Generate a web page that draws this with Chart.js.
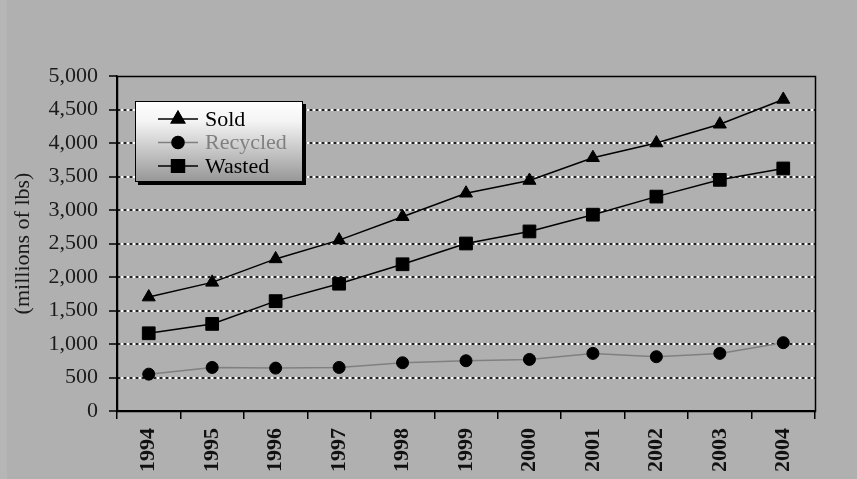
<!DOCTYPE html>
<html>
<head>
<meta charset="utf-8">
<script src="https://cdn.jsdelivr.net/npm/chart.js@4/dist/chart.umd.min.js"></script>
<style>
  html, body { margin: 0; padding: 0; background: #b0b0b0; }
  canvas { display: block; }
</style>
</head>
<body>
<canvas id="chart" width="857" height="479"></canvas>
<script>
// Annual totals, millions of lbs
const years = ['1994', '1995', '1996', '1997', '1998', '1999', '2000', '2001', '2002', '2003', '2004'];
const sold = [1700, 1920, 2270, 2550, 2900, 3250, 3440, 3780, 4000, 4280, 4650];
const recycled = [550, 650, 640, 650, 720, 750, 770, 860, 810, 860, 1020];
const wasted = [1160, 1300, 1640, 1900, 2190, 2500, 2680, 2930, 3200, 3450, 3620];
const seriesNames = ['Sold', 'Recycled', 'Wasted'];
const yAxisTitle = '(millions of lbs)';

const SERIF = '"Liberation Serif", "Times New Roman", serif';
const BG = '#b0b0b0';

// Background, plus the white base under each dashed gridline
const backdrop = {
  id: 'backdrop',
  beforeDraw(chart) {
    const { ctx, chartArea: a, scales: { y } } = chart;
    ctx.save();
    ctx.fillStyle = BG;
    ctx.fillRect(0, 0, chart.width, chart.height);
    ctx.fillStyle = '#b6b6b6';
    ctx.fillRect(0, 0, 7, chart.height);
    ctx.strokeStyle = '#ffffff';
    ctx.lineWidth = 2;
    y.ticks.forEach(t => {
      if (t.value <= y.min || t.value >= y.max) return;
      const py = Math.round(y.getPixelForValue(t.value));
      ctx.beginPath();
      ctx.moveTo(a.left, py);
      ctx.lineTo(a.right, py);
      ctx.stroke();
    });
    ctx.restore();
  },
  beforeDatasetsDraw(chart) {
    // plot frame
    const { ctx, chartArea: a } = chart;
    ctx.save();
    ctx.strokeStyle = '#000';
    ctx.lineWidth = 1.5;
    ctx.strokeRect(Math.round(a.left) + 0.5, Math.round(a.top) + 0.5,
                   Math.round(a.right - a.left), Math.round(a.bottom - a.top));
    ctx.restore();
  }
};

// Boxed legend with a drop shadow and a shaded fill
const boxLegend = {
  id: 'boxLegend',
  afterDraw(chart) {
    const { ctx, chartArea: a } = chart;
    const x = a.left + 18, y = a.top + 25, w = 168, h = 81;
    ctx.save();
    ctx.fillStyle = '#000';
    ctx.fillRect(x + 3, y + 3, w, h);
    const g = ctx.createLinearGradient(0, y, 0, y + h);
    g.addColorStop(0, '#ffffff');
    g.addColorStop(0.25, '#f4f4f4');
    g.addColorStop(1, '#969696');
    ctx.fillStyle = g;
    ctx.fillRect(x, y, w, h);
    ctx.strokeStyle = '#000';
    ctx.lineWidth = 1;
    ctx.strokeRect(x + 0.5, y + 0.5, w - 1, h - 1);

    ctx.font = '22px ' + SERIF;
    ctx.textBaseline = 'middle';
    ctx.textAlign = 'left';
    chart.data.datasets.forEach((ds, i) => {
      const ry = y + 18 + i * 23.5;
      ctx.strokeStyle = ds.borderColor;
      ctx.lineWidth = 1.5;
      ctx.beginPath();
      ctx.moveTo(x + 23, ry);
      ctx.lineTo(x + 63, ry);
      ctx.stroke();
      Chart.helpers.drawPoint(ctx, {
        pointStyle: ds.pointStyle,
        radius: ds.pointRadius,
        rotation: 0,
        borderWidth: 1
      }, x + 43, ry);
      ctx.fillStyle = '#000';
      ctx.strokeStyle = '#000';
      ctx.fill();
      ctx.stroke();
      ctx.fillStyle = ds.legendTextColor;
      ctx.fillText(ds.label, x + 70, ry + 1);
    });
    ctx.restore();
  }
};

function series(label, data, lineColor, textColor, style, radius) {
  return {
    label, data,
    borderColor: lineColor,
    borderWidth: 1.5,
    pointStyle: style,
    pointRadius: radius,
    pointHoverRadius: radius,
    pointBackgroundColor: '#000',
    pointBorderColor: '#000',
    pointBorderWidth: 1,
    tension: 0,
    legendTextColor: textColor
  };
}

new Chart(document.getElementById('chart'), {
  type: 'line',
  data: {
    labels: years,
    datasets: [
      series(seriesNames[0], sold, '#000000', '#000000', 'triangle', 7.5),
      series(seriesNames[1], recycled, '#808080', '#808080', 'circle', 6),
      series(seriesNames[2], wasted, '#000000', '#000000', 'rect', 9)
    ]
  },
  options: {
    responsive: false,
    animation: false,
    layout: { padding: { top: 76, right: 42, bottom: 0, left: 0 } },
    plugins: {
      legend: { display: false },
      tooltip: { enabled: false }
    },
    scales: {
      x: {
        offset: true,
        grid: {
          offset: true,
          drawOnChartArea: false,
          color: '#000',
          tickColor: '#000',
          tickLength: 8,
          lineWidth: 1.5
        },
        border: { display: true, color: '#000', width: 1.5 },
        ticks: {
          minRotation: 90,
          maxRotation: 90,
          padding: 9,
          color: '#111',
          font: { family: SERIF, size: 22, weight: 'bold' }
        },
        afterFit(scale) { scale.height = 68; }
      },
      y: {
        min: 0,
        max: 5000,
        ticks: {
          stepSize: 500,
          padding: 11,
          color: '#1a1a1a',
          font: { family: SERIF, size: 22 },
          callback: v => v.toLocaleString('en-US')
        },
        grid: {
          color: ctx => (ctx.tick && (ctx.tick.value === 0 || ctx.tick.value === 5000)) ? 'rgba(0,0,0,0)' : '#222222',
          lineWidth: 2,
          tickColor: '#000',
          tickBorderDash: [],
          tickLength: 8,
          tickWidth: 1.5
        },
        // in Chart.js v4 the gridline dash pattern lives under border.dash
        border: { display: true, color: '#000', width: 1.5, dash: [3, 3] },
        title: {
          display: true,
          text: yAxisTitle,
          color: '#1a1a1a',
          font: { family: SERIF, size: 22 },
          padding: { top: 10, bottom: 0 }
        },
        afterFit(scale) { scale.width = 117; }
      }
    }
  },
  plugins: [backdrop, boxLegend]
});
</script>
</body>
</html>
